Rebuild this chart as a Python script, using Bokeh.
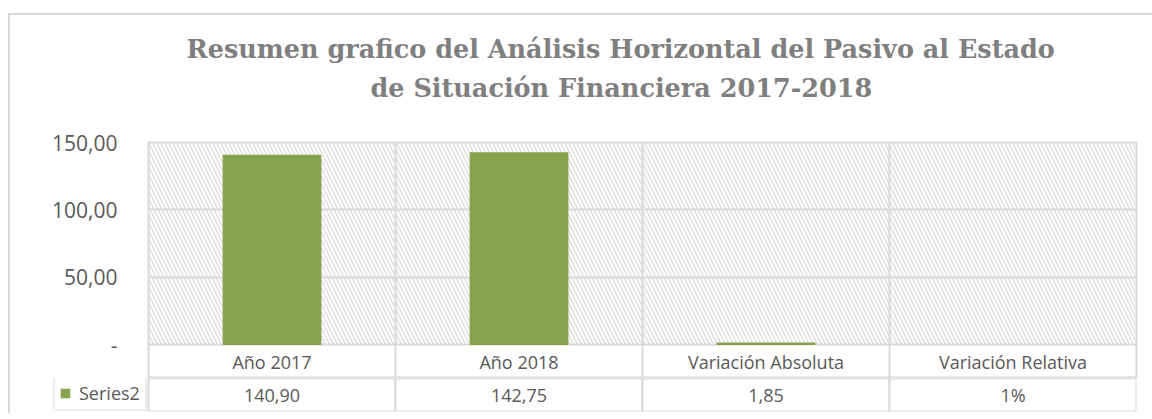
from bokeh.plotting import figure
from bokeh.models import (FactorRange, Range1d, FixedTicker, Span, Title, Legend,
                          LegendItem, ColumnDataSource)
from bokeh.layouts import column
from bokeh.embed import file_html
from bokeh.resources import INLINE
from bokeh.core.properties import value

# ---------------- data ----------------
categories = ["Año 2017", "Año 2018", "Variación Absoluta", "Variación Relativa"]
series_name = "Series2"
series_values = [140.90, 142.75, 1.85, 0.01]
table_labels = ["140,90", "142,75", "1,85", "1%"]
y_ticks = [0, 50, 100, 150]
y_tick_labels = ["-", "50,00", "100,00", "150,00"]
title_lines = ["Resumen grafico del Análisis Horizontal del Pasivo al Estado",
               "de Situación Financiera 2017-2018"]

# ---------------- styles ----------------
GRID = "#d9d9d9"
TEXT = "#595959"
BAR = "#87a34f"
TITLE_C = "#7f7f7f"
FONT = "Open Sans"
SERIF = "DejaVu Serif"
W = 1142
Y_MAX = 150
CAT_ROW = Y_MAX * 33.5 / 202.0   # height of the category-label row, in axis units
KEY_W = 95 / 247.0               # width of the legend-key column, in category units

# ---------------- chart ----------------
pA = figure(width=W, height=363, x_range=FactorRange(factors=categories),
            y_range=Range1d(-CAT_ROW, Y_MAX), output_backend="svg",
            toolbar_location=None, x_axis_location=None,
            min_border_left=138, min_border_right=16,
            min_border_top=127, min_border_bottom=0)
pA.outline_line_color = GRID
pA.outline_line_width = 2
pA.background_fill_color = "white"
pA.border_fill_color = "white"

src = ColumnDataSource(dict(cat=categories, val=series_values,
                            top=[Y_MAX] * len(categories),
                            ycat=[-CAT_ROW / 2] * len(categories)))
# hatched plot-area background
pA.vbar(x="cat", top="top", bottom=0, width=1.0, source=src, fill_alpha=0,
        line_color=None, hatch_pattern="\\", hatch_color=GRID,
        hatch_scale=8, hatch_weight=1.2)
pA.vbar(x="cat", top="val", width=0.4, source=src, fill_color=BAR, line_color=None)

for b in range(1, len(categories)):
    pA.add_layout(Span(location=b, dimension="height", line_color=GRID, line_width=2))

pA.text(x="cat", y="ycat", text="cat", source=src, text_align="center",
        text_baseline="middle", text_font=value(FONT), text_font_size="18px",
        text_color=TEXT)

pA.xgrid.grid_line_color = None
pA.ygrid.ticker = FixedTicker(ticks=y_ticks)
pA.ygrid.grid_line_color = GRID
pA.ygrid.grid_line_width = 2

ya = pA.yaxis[0]
ya.ticker = FixedTicker(ticks=y_ticks)
ya.major_label_overrides = {t: l for t, l in zip(y_ticks, y_tick_labels)}
ya.axis_line_color = None
ya.major_tick_line_color = None
ya.minor_tick_line_color = None
ya.major_label_standoff = 25
ya.major_label_text_font = FONT
ya.major_label_text_font_size = "21px"
ya.major_label_text_color = TEXT

spacer = Title(text=" ", text_font_size="1px", standoff=37)
t2 = Title(text=title_lines[1], align="left", offset=222, text_font=SERIF,
           text_font_size="25.5px", text_font_style="bold", text_color=TITLE_C,
           standoff=0)
t1 = Title(text=title_lines[0], align="left", offset=38, text_font=SERIF,
           text_font_size="25.5px", text_font_style="bold", text_color=TITLE_C,
           standoff=14)
pA.add_layout(spacer, "above")
pA.add_layout(t2, "above")
pA.add_layout(t1, "above")

# ---------------- data table (values row) ----------------
pB = figure(width=W, height=35, x_range=Range1d(-KEY_W, len(categories)),
            y_range=Range1d(0, 1), output_backend="svg", toolbar_location=None,
            x_axis_location=None, y_axis_location=None,
            min_border_left=43, min_border_right=16, min_border_top=0,
            min_border_bottom=2)
pB.outline_line_color = None
pB.xgrid.grid_line_color = None
pB.ygrid.grid_line_color = None
pB.background_fill_color = "white"
pB.border_fill_color = "white"

for p in (pA, pB):
    try:
        p.frame_align = False
    except Exception:
        pass

xpos = [i + 0.5 for i in range(len(categories))]
tsrc = ColumnDataSource(dict(x=xpos, lab=table_labels, yv=[0.5] * len(categories)))
pB.rect(x="x", y="yv", width=1, height=1, source=tsrc, fill_color="white",
        line_color=GRID, line_width=2)
pB.text(x="x", y="yv", text="lab", source=tsrc, text_align="center",
        text_baseline="middle", text_font=value(FONT), text_font_size="18px",
        text_color=TEXT)

key = pB.vbar(x="x", top=0, bottom=0, width=0.4, source=tsrc,
              fill_color=BAR, line_color=None)
leg = Legend(items=[LegendItem(label=series_name, renderers=[key])],
             location="bottom_left", margin=0, padding=4, spacing=0,
             glyph_width=12, glyph_height=12, label_standoff=8, label_width=62,
             label_text_font=FONT, label_text_font_size="18px",
             label_text_color=TEXT, border_line_color=GRID, border_line_width=2,
             background_fill_color="white", background_fill_alpha=1)
pB.add_layout(leg)

layout = column(pA, pB, spacing=0, margin=(13, 0, 0, 8),
                styles={"border-left": "2px solid #d9d9d9",
                        "border-top": "2px solid #d9d9d9"})

open("out.html", "w").write(file_html(layout, INLINE))
